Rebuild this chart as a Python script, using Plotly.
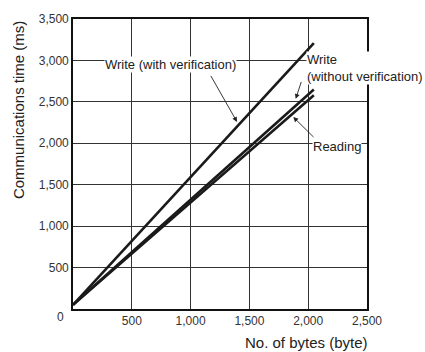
import plotly.graph_objects as go

# Data
x_bytes = [0, 2048]
write_with_verif = [50, 3210]
write_without_verif = [50, 2650]
reading = [50, 2580]

x_ticks = [500, 1000, 1500, 2000, 2500]
x_tick_labels = ["500", "1,000", "1,500", "2,000", "2,500"]
y_ticks = [500, 1000, 1500, 2000, 2500, 3000, 3500]
y_tick_labels = ["500", "1,000", "1,500", "2,000", "2,500", "3,000", "3,500"]

FONT = "Liberation Sans, Arial, sans-serif"
LINE = "#1a1a1a"

fig = go.Figure()
for name, ys in [("Write (with verification)", write_with_verif),
                 ("Write (without verification)", write_without_verif),
                 ("Reading", reading)]:
    fig.add_trace(go.Scatter(x=x_bytes, y=ys, mode="lines", name=name,
                             line=dict(color=LINE, width=2.6), showlegend=False,
                             hoverinfo="skip"))

def arrow(hx, hy, tx, ty):
    fig.add_annotation(x=hx, y=hy, ax=tx, ay=ty, xref="x", yref="y", axref="x", ayref="y",
                       text="", showarrow=True, arrowhead=2, arrowsize=1.1,
                       arrowwidth=0.9, arrowcolor="#222", standoff=0)

arrow(1395, 2258, 1165, 2831)
arrow(1894, 2536, 1945, 2759)
arrow(1873, 2317, 2058, 2058)

lab_font = dict(family=FONT, size=13, color="#222")
fig.add_annotation(x=829, y=2950, xref="x", yref="y", text="Write (with verification)",
                   xanchor="center", yanchor="middle",
                   showarrow=False, font=lab_font, bgcolor="white", borderpad=0)
fig.add_annotation(x=1981, y=2905, xref="x", yref="y", xanchor="left", yanchor="middle",
                   text="Write<br>(without verification)", align="left",
                   showarrow=False, font=lab_font, bgcolor="white", borderpad=0)
fig.add_annotation(x=2245, y=1959, xref="x", yref="y", text="Reading",
                   xanchor="center", yanchor="middle",
                   showarrow=False, font=lab_font, bgcolor="white", borderpad=0)

# axis titles and origin label
fig.add_annotation(x=-0.187, y=0.686, xref="paper", yref="paper", text="Communications time (ms)",
                   xanchor="center", yanchor="middle",
                   textangle=-90, showarrow=False, font=dict(family=FONT, size=15, color="#222"))
fig.add_annotation(x=1.010, y=-0.116, xref="paper", yref="paper", xanchor="right",
                   yanchor="middle",
                   text="No. of bytes (byte)", showarrow=False,
                   font=dict(family=FONT, size=15, color="#222"))
fig.add_annotation(x=-0.041, y=-0.027, xref="paper", yref="paper", text="0",
                   xanchor="center", yanchor="middle",
                   showarrow=False, font=dict(family=FONT, size=12, color="#333"))

fig.update_xaxes(range=[0, 2500], tickvals=x_ticks, ticktext=x_tick_labels,
                 showgrid=True, gridcolor="#333", gridwidth=1, zeroline=False,
                 showline=True, linecolor="#111", linewidth=1.6, mirror=True,
                 ticks="", tickfont=dict(family=FONT, size=12, color="#333"))
fig.update_yaxes(range=[0, 3500], tickvals=y_ticks, ticktext=y_tick_labels,
                 showgrid=True, gridcolor="#333", gridwidth=1, zeroline=False,
                 showline=True, linecolor="#111", linewidth=1.6, mirror=True,
                 ticks="", tickfont=dict(family=FONT, size=12, color="#333"))

fig.update_layout(width=425, height=352, margin=dict(l=73, r=58, t=16, b=43),
                  plot_bgcolor="white", paper_bgcolor="white",
                  font=dict(family=FONT))

# remove the default page margin so the figure sits at the window's top-left corner
fig.write_html("out.html", config={"displayModeBar": False},
               post_script="document.body.style.margin='0';document.body.style.overflow='hidden';")
